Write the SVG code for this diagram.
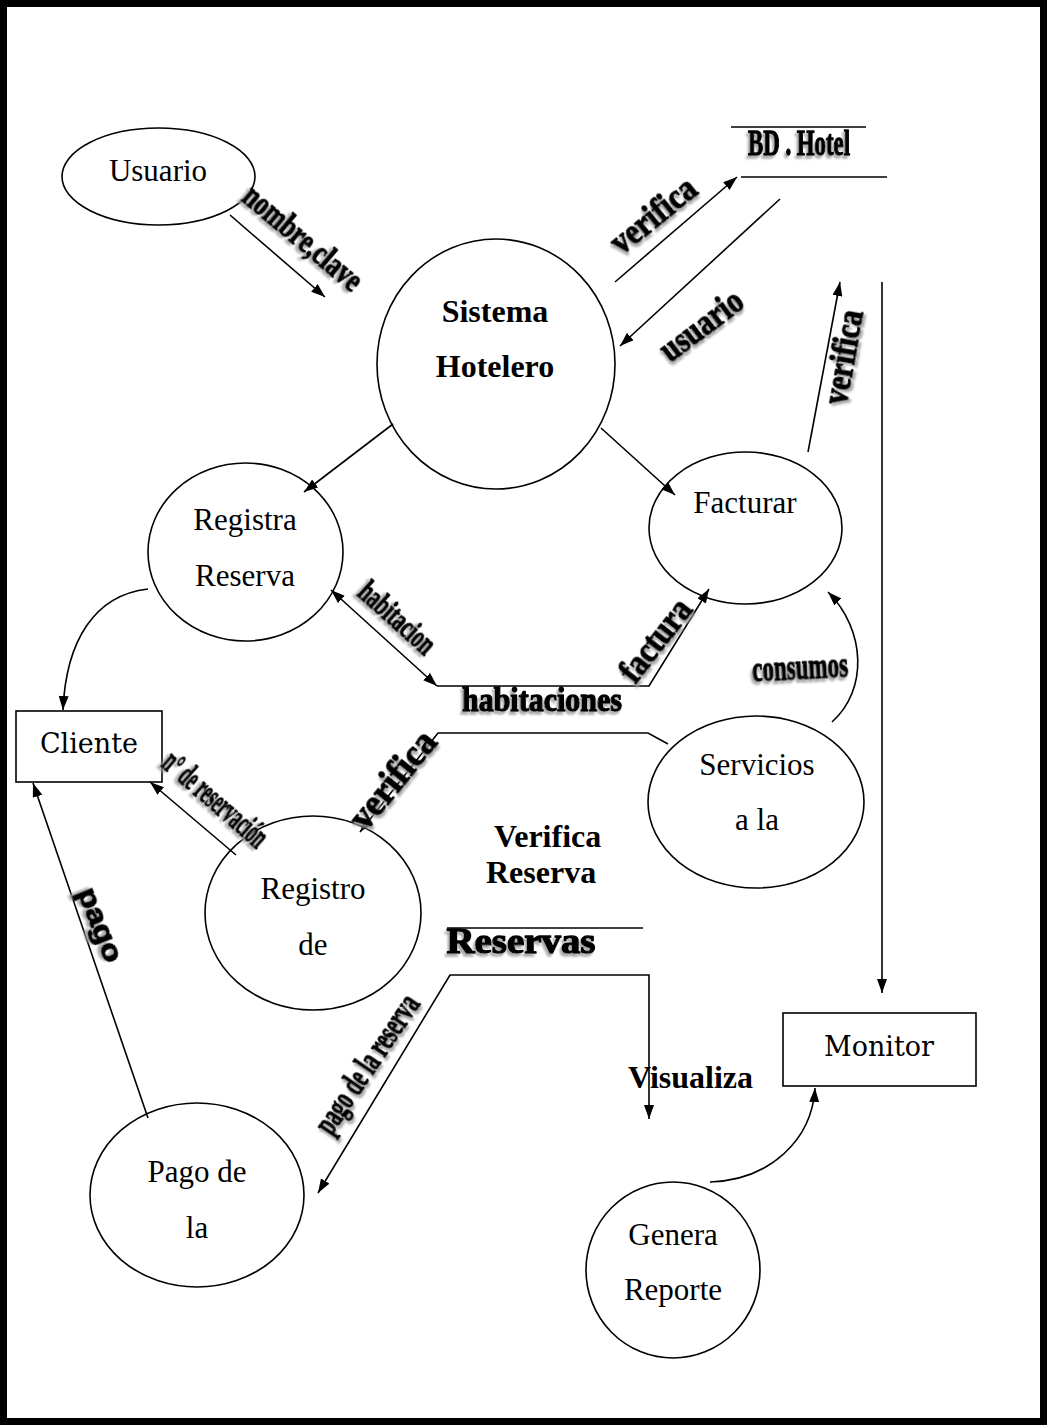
<svg xmlns="http://www.w3.org/2000/svg" width="1047" height="1425" viewBox="0 0 1047 1425">
  <defs>
    <marker id="arrow" viewBox="0 0 14 10" refX="14" refY="5" markerWidth="14" markerHeight="10" markerUnits="userSpaceOnUse" orient="auto-start-reverse">
      <path d="M0,0 L14,5 L0,10 Z" fill="#000"/>
    </marker>
    <filter id="shadow" x="-15%" y="-40%" width="130%" height="180%">
      <feDropShadow dx="-2" dy="3" stdDeviation="1" flood-color="#9a9a9a" flood-opacity="0.85"/>
    </filter>
    <style>
      .node { fill: #fff; stroke: #000; stroke-width: 1.6; }
      .lbl { font-family: "Liberation Serif", "Times New Roman", serif; font-size: 31px; fill: #000; text-anchor: middle; }
      .box { font-family: "DejaVu Serif", "Liberation Serif", serif; font-size: 27px; fill: #000; text-anchor: middle; }
      .bold { font-family: "Liberation Serif", "Times New Roman", serif; font-size: 32px; font-weight: bold; fill: #000; }
      .wa { font-family: "Liberation Serif", "Times New Roman", serif; font-weight: bold; fill: #000; stroke: #000; stroke-width: 1.4; stroke-linejoin: round; text-anchor: middle; filter: url(#shadow); }
      .edge { fill: none; stroke: #000; stroke-width: 1.6; }
      .store { fill: none; stroke: #000; stroke-width: 1.6; }
    </style>
  </defs>

  <rect x="0" y="0" width="1047" height="1425" fill="#fff"/>
  <!-- page frame -->
  <rect x="3.5" y="3.5" width="1040" height="1418" fill="none" stroke="#000" stroke-width="7"/>

  <!-- processes and external entities -->
  <g id="usuario">
    <ellipse class="node" cx="158.5" cy="176.5" rx="96.5" ry="48.5"/>
    <text class="lbl" x="158" y="181">Usuario</text>
  </g>
  <g id="sistema-hotelero">
    <ellipse class="node" cx="496" cy="364" rx="119" ry="125"/>
    <text class="bold" x="495" y="322" text-anchor="middle">Sistema</text>
    <text class="bold" x="495" y="377" text-anchor="middle">Hotelero</text>
  </g>
  <g id="registra-reserva">
    <ellipse class="node" cx="245.5" cy="552" rx="97.5" ry="89"/>
    <text class="lbl" x="245" y="530">Registra</text>
    <text class="lbl" x="245" y="586">Reserva</text>
  </g>
  <g id="facturar">
    <ellipse class="node" cx="745.5" cy="528" rx="96.5" ry="76"/>
    <text class="lbl" x="745" y="513">Facturar</text>
  </g>
  <g id="cliente">
    <rect class="node" x="16" y="711" width="146" height="71"/>
    <text class="box" x="89" y="753" font-size="26">Cliente</text>
  </g>
  <g id="servicios">
    <ellipse class="node" cx="756" cy="802" rx="108" ry="86"/>
    <text class="lbl" x="757" y="775">Servicios</text>
    <text class="lbl" x="757" y="830">a la</text>
  </g>
  <g id="registro-de">
    <ellipse class="node" cx="313" cy="913" rx="108" ry="97"/>
    <text class="lbl" x="313" y="899">Registro</text>
    <text class="lbl" x="313" y="955">de</text>
  </g>
  <g id="verifica-reserva">
    <text class="bold" x="494" y="847">Verifica</text>
    <text class="bold" x="486" y="883">Reserva</text>
  </g>
  <g id="pago-de-la">
    <ellipse class="node" cx="197" cy="1195" rx="107" ry="92"/>
    <text class="lbl" x="197" y="1182">Pago de</text>
    <text class="lbl" x="197" y="1238">la</text>
  </g>
  <g id="monitor">
    <rect class="node" x="783" y="1013" width="193" height="73"/>
    <text class="box" x="879" y="1056" font-size="29">Monitor</text>
  </g>
  <g id="genera-reporte">
    <ellipse class="node" cx="673" cy="1270" rx="87" ry="88"/>
    <text class="lbl" x="673" y="1245">Genera</text>
    <text class="lbl" x="673" y="1300">Reporte</text>
  </g>

  <!-- data stores -->
  <g id="bd-hotel">
    <path class="store" d="M731,127 H866 M741,177 H887"/>
    <text class="wa" x="799" y="155" font-size="35" textLength="102" lengthAdjust="spacingAndGlyphs">BD . Hotel</text>
  </g>
  <g id="reservas">
    <path class="store" d="M447,928 H643"/>
    <text class="wa" x="521" y="953" font-size="36" textLength="149" lengthAdjust="spacingAndGlyphs">Reservas</text>
  </g>
  <g id="habitaciones">
    <text class="wa" x="542" y="711" font-size="34" textLength="160" lengthAdjust="spacingAndGlyphs">habitaciones</text>
  </g>

  <!-- data flows -->
  <g id="connectors">
    <path class="edge" d="M230,215 L325,297" marker-end="url(#arrow)"/>
    <path class="edge" d="M615,282 L737,177" marker-end="url(#arrow)"/>
    <path class="edge" d="M780,199 L620,346" marker-end="url(#arrow)"/>
    <path class="edge" d="M882,282 L882,993" marker-end="url(#arrow)"/>
    <path class="edge" d="M808,452 L840,282" marker-end="url(#arrow)"/>
    <path class="edge" d="M393,424 L304,492" marker-end="url(#arrow)"/>
    <path class="edge" d="M601,428 L675,495" marker-end="url(#arrow)"/>
    <path class="edge" d="M148,589 C95,595 66,640 63,710" marker-end="url(#arrow)"/>
    <path class="edge" d="M331,590 L437,686" marker-start="url(#arrow)" marker-end="url(#arrow)"/>
    <path class="edge" d="M437,686 L649,686 L709,589" marker-end="url(#arrow)"/>
    <path class="edge" d="M668,744 L648,733 L438,733 L360,832" marker-end="url(#arrow)"/>
    <path class="edge" d="M832,722 C868,690 866,630 828,592" marker-end="url(#arrow)"/>
    <path class="edge" d="M236,855 L150,782" marker-end="url(#arrow)"/>
    <path class="edge" d="M148,1118 L33,783" marker-end="url(#arrow)"/>
    <path class="edge" d="M318,1193 L450,975 L649,975 L649,1119" marker-start="url(#arrow)" marker-end="url(#arrow)"/>
    <path class="edge" d="M710,1182 C770,1180 812,1140 815,1088" marker-end="url(#arrow)"/>

    <!-- flow labels -->
    <text class="wa" transform="translate(303,238) rotate(40)" y="11" font-size="33" textLength="145" lengthAdjust="spacingAndGlyphs">nombre,clave</text>
    <text class="wa" transform="translate(653,215) rotate(-39)" y="12" font-size="36" textLength="100" lengthAdjust="spacingAndGlyphs">verifica</text>
    <text class="wa" transform="translate(701,325) rotate(-37)" y="12" font-size="35" textLength="95" lengthAdjust="spacingAndGlyphs">usuario</text>
    <text class="wa" transform="translate(843,357) rotate(-80)" y="12" font-size="35" textLength="95" lengthAdjust="spacingAndGlyphs">verifica</text>
    <text class="wa" transform="translate(397,618) rotate(42)" y="10" font-size="31" textLength="92" lengthAdjust="spacingAndGlyphs">habitacion</text>
    <text class="wa" transform="translate(655,640) rotate(-52)" y="12" font-size="35" textLength="95" lengthAdjust="spacingAndGlyphs">factura</text>
    <text class="wa" transform="translate(800,667) rotate(-3)" y="12" font-size="35" textLength="96" lengthAdjust="spacingAndGlyphs">consumos</text>
    <text class="wa" transform="translate(393,780) rotate(-51)" y="12" font-size="38" textLength="115" lengthAdjust="spacingAndGlyphs">verifica</text>
    <text class="wa" transform="translate(215,800) rotate(41)" y="10" font-size="33" textLength="128" lengthAdjust="spacingAndGlyphs">n° de reservación</text>
    <text class="wa" transform="translate(100,925) rotate(68)" y="9" font-size="28" textLength="78" lengthAdjust="spacingAndGlyphs" style="font-family:'Liberation Sans',Arial,sans-serif">pago</text>
    <text class="wa" transform="translate(367,1064) rotate(-56)" y="11" font-size="34" textLength="160" lengthAdjust="spacingAndGlyphs">pago de la reserva</text>
    <text class="bold" x="628" y="1088">Visualiza</text>
  </g>
</svg>
